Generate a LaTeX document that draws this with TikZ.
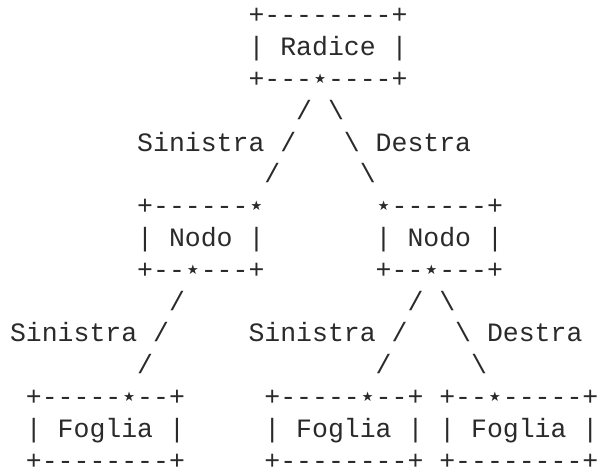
\documentclass[tikz,border=0pt]{standalone}
\usepackage{fontspec}
\setmonofont{Liberation Mono}
\newfontfamily\starfont{DejaVu Sans}
\definecolor{ink}{HTML}{2A2A2A}
% small star used where a branch leaves a box
\newcommand\st{\makebox[0.6em]{\starfont ⋆}}
\newcommand\bs{\textbackslash}
% one character cell is 15.9 px wide, one text row is 31.8 px high
\newcommand\cell[4]{\node[ascii] (#1) at ({10+#2*15.9},{24+(#3-1)*31.8}) {#4};}
\begin{document}
\begin{tikzpicture}[x=0.75pt,y=-0.75pt,
  ascii/.style={anchor=base west,inner sep=0pt,outer sep=0pt,text=ink,
    font=\ttfamily\fontsize{19.875pt}{23.85pt}\selectfont}]
\useasboundingbox (0,0) rectangle (599,473);
% root
\cell{rootTop}{15}{1}{+--------+}
\cell{rootMid}{15}{2}{| Radice |}
\cell{rootBot}{15}{3}{+---\st----+}
% branches from the root
\cell{rootEdges}{18}{4}{/ \bs}
\cell{lblRootL}{8}{5}{Sinistra /}
\cell{lblRootR}{21}{5}{\bs{} Destra}
\cell{rootEdgeL}{16}{6}{/}
\cell{rootEdgeR}{22}{6}{\bs}
% inner nodes
\cell{nodeLTop}{8}{7}{+------\st}
\cell{nodeRTop}{23}{7}{\st------+}
\cell{nodeLMid}{8}{8}{| Nodo |}
\cell{nodeRMid}{23}{8}{| Nodo |}
\cell{nodeLBot}{8}{9}{+--\st---+}
\cell{nodeRBot}{23}{9}{+--\st---+}
% branches to the leaves
\cell{nodeLEdge}{10}{10}{/}
\cell{nodeREdges}{25}{10}{/ \bs}
\cell{lblNodeL}{0}{11}{Sinistra /}
\cell{lblNodeRL}{15}{11}{Sinistra /}
\cell{lblNodeRR}{28}{11}{\bs{} Destra}
\cell{leafEdgeA}{8}{12}{/}
\cell{leafEdgeB}{23}{12}{/}
\cell{leafEdgeC}{29}{12}{\bs}
% leaves
\cell{leafATop}{1}{13}{+-----\st--+}
\cell{leafBTop}{16}{13}{+-----\st--+}
\cell{leafCTop}{27}{13}{+--\st-----+}
\cell{leafAMid}{1}{14}{| Foglia |}
\cell{leafBMid}{16}{14}{| Foglia |}
\cell{leafCMid}{27}{14}{| Foglia |}
\cell{leafABot}{1}{15}{+--------+}
\cell{leafBBot}{16}{15}{+--------+}
\cell{leafCBot}{27}{15}{+--------+}
\end{tikzpicture}
\end{document}
